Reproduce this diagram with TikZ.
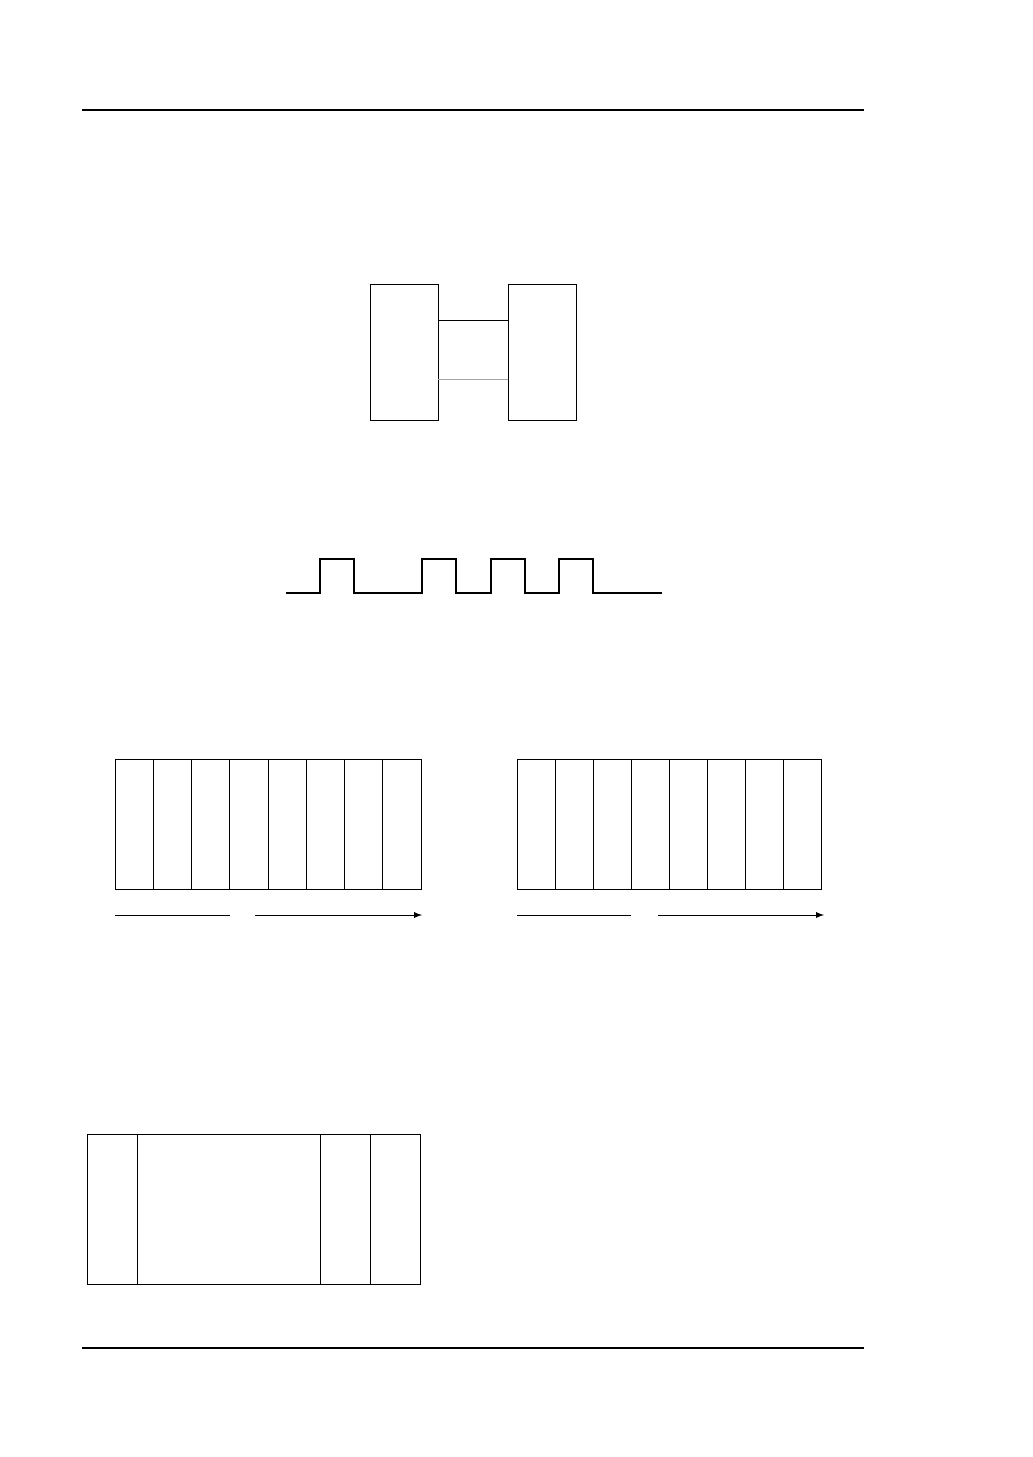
\documentclass[tikz,border=0pt]{standalone}
\usetikzlibrary{positioning}
\begin{document}
\begin{tikzpicture}[
        x=0.02cm, y=-0.02cm,
        every node/.style={rectangle, draw=black, inner sep=0pt, outer sep=0pt, line width=0.55pt},
        unitbox/.style={minimum width=1.36cm, minimum height=2.72cm},
        cellbox/.style={minimum width=0.765cm, minimum height=2.6cm},
        link/.style={line width=0.55pt},
        arrow/.style={line width=0.55pt, ->, >=latex}
    ]
        \useasboundingbox (0,0) rectangle (1032,1457);

        % page rules
        \draw[line width=1.6pt] (82,110) -- (864,110);
        \draw[line width=0.8pt] (82,1348) -- (864,1348);

        % two units joined by two lines
        \node[unitbox] (left) at (404,352) {};
        \node[unitbox] (right) at (542,352) {};
        \draw[link] ([yshift=0.64cm]left.east) -- ([yshift=0.64cm]right.west);
        \draw[link, black!35] ([yshift=-0.54cm]left.east) -- ([yshift=-0.54cm]right.west);

        % pulse train
        \draw[line width=0.6pt] (286,593) -- (320,593) -- (320,559) -- (354,559) -- (354,593)
            -- (422,593) -- (422,559) -- (456,559) -- (456,593)
            -- (491,593) -- (491,559) -- (525,559) -- (525,593)
            -- (559,593) -- (559,559) -- (593,559) -- (593,593) -- (662,593);

        % left frame of eight cells
        \foreach \i in {1,...,8}
            \node[cellbox] (lc\i) at ({115+(\i-0.5)*38.25},824) {};
        \coordinate (la0) at (115,915);
        \coordinate (la1) at (230,915);
        \coordinate (la2) at (255,915);
        \coordinate (la3) at (422,915);
        \draw[link] (la0) -- (la1);
        \draw[arrow] (la2) -- (la3);

        % right frame of eight cells
        \foreach \i in {1,...,8}
            \node[cellbox, minimum width=0.76cm] (rc\i) at ({517+(\i-0.5)*38},824) {};
        \coordinate (ra0) at (517,915);
        \coordinate (ra1) at (631,915);
        \coordinate (ra2) at (658,915);
        \coordinate (ra3) at (824,915);
        \draw[link] (ra0) -- (ra1);
        \draw[arrow] (ra2) -- (ra3);

        % frame with four fields
        \node[minimum width=1.0cm, minimum height=3.0cm] (f1) at (112,1209) {};
        \node[minimum width=3.68cm, minimum height=3.0cm, right=0pt of f1] (f2) {};
        \node[minimum width=1.0cm, minimum height=3.0cm, right=0pt of f2] (f3) {};
        \node[minimum width=1.0cm, minimum height=3.0cm, right=0pt of f3] (f4) {};
    \end{tikzpicture}
\end{document}
